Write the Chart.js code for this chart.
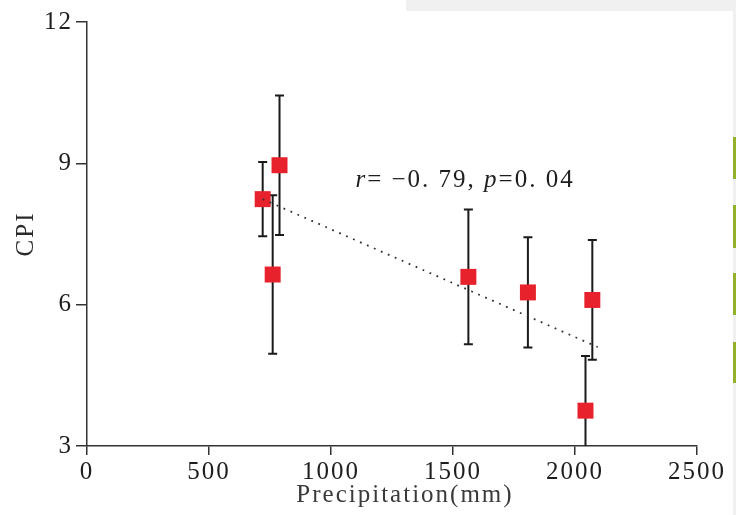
<!DOCTYPE html>
<html>
<head>
<meta charset="utf-8">
<script src="https://cdn.jsdelivr.net/npm/chart.js@4.4.1/dist/chart.umd.min.js"></script>
<style>
  html, body { margin: 0; padding: 0; background: #ffffff; }
  #wrap { width: 736px; height: 515px; position: relative; }
</style>
</head>
<body>
<div id="wrap"><canvas id="c" width="736" height="515"></canvas></div>
<script>
// ---- data ----
const precipitation = [720, 789, 761, 1563, 1807, 2071, 2043];
const cpi           = [8.24, 8.96, 6.64, 6.59, 6.26, 6.10, 3.75];
const cpiError      = [0.79, 1.48, 1.68, 1.43, 1.17, 1.27, 1.16];
const trendX        = [720, 2093];
const trendY        = [8.24, 5.10];
const xTickValues   = [0, 500, 1000, 1500, 2000, 2500];
const yTickValues   = [3, 6, 9, 12];
const xAxisTitle    = 'Precipitation(mm)';
const yAxisTitle    = 'CPI';
const statParts     = [['r', true], ['= \u22120. 79, ', false], ['p', true], ['=0. 04', false]];
const statAnchor    = { x: 1100, y: 8.5 };

const FONT = "'Liberation Serif', 'Times New Roman', serif";
const SPACING = '2px';

const points = precipitation.map((p, i) => ({ x: p, y: cpi[i] }));
const trend = trendX.map((v, i) => ({ x: v, y: trendY[i] }));

const backdropPlugin = {
  id: 'backdrop',
  beforeDraw(chart) {
    const ctx = chart.ctx;
    ctx.letterSpacing = SPACING;
    ctx.save();
    ctx.fillStyle = '#eff0ef';
    ctx.fillRect(406, 0, 330, 11);
    ctx.fillRect(733, 11, 3, 504);
    ctx.fillStyle = '#93b22a';
    [[137, 179], [205, 248], [273, 315], [342, 383]].forEach(([a, b]) => ctx.fillRect(733, a, 3, b - a));
    ctx.restore();
  }
};

const errorBarPlugin = {
  id: 'errorBars',
  beforeDatasetsDraw(chart) {
    const { ctx, chartArea, scales: { x, y } } = chart;
    ctx.save();
    ctx.beginPath();
    ctx.rect(chartArea.left, chartArea.top, chartArea.right - chartArea.left, chartArea.bottom - chartArea.top);
    ctx.clip();
    ctx.strokeStyle = '#1a1a1a';
    ctx.lineWidth = 2;
    precipitation.forEach((p, i) => {
      const px = x.getPixelForValue(p);
      const top = y.getPixelForValue(cpi[i] + cpiError[i]);
      const bot = y.getPixelForValue(cpi[i] - cpiError[i]);
      ctx.beginPath();
      ctx.moveTo(px, top); ctx.lineTo(px, bot);
      ctx.moveTo(px - 4.5, top); ctx.lineTo(px + 4.5, top);
      ctx.moveTo(px - 4.5, bot); ctx.lineTo(px + 4.5, bot);
      ctx.stroke();
    });
    ctx.restore();
  }
};

const textPlugin = {
  id: 'texts',
  afterDraw(chart) {
    const { ctx, scales: { x, y } } = chart;
    ctx.save();
    ctx.letterSpacing = SPACING;
    ctx.fillStyle = '#1e1e1e';
    ctx.textBaseline = 'alphabetic';
    ctx.textAlign = 'left';
    let px = x.getPixelForValue(statAnchor.x);
    const py = y.getPixelForValue(statAnchor.y);
    statParts.forEach(([t, it]) => {
      ctx.font = (it ? 'italic ' : '') + '25px ' + FONT;
      ctx.fillText(t, px, py);
      px += ctx.measureText(t).width;
    });
    // x axis title
    ctx.font = '25px ' + FONT;
    ctx.fillStyle = '#3a3a3a';
    ctx.textAlign = 'center';
    ctx.textBaseline = 'middle';
    const cx = (x.getPixelForValue(xTickValues[0]) + x.getPixelForValue(xTickValues[xTickValues.length - 1])) / 2 + 13;
    ctx.fillText(xAxisTitle, cx, 495);
    ctx.restore();
  }
};

const plainTick = (v) => String(v);

new Chart(document.getElementById('c'), {
  data: {
    datasets: [
      {
        type: 'scatter',
        data: points,
        pointStyle: 'rect',
        pointRadius: 11.3,
        pointHoverRadius: 11.3,
        backgroundColor: '#e8222c',
        borderWidth: 0,
        order: 1
      },
      {
        type: 'line',
        data: trend,
        borderColor: '#333',
        borderWidth: 1.8,
        borderDash: [1.8, 5.8],
        pointRadius: 0,
        fill: false,
        order: 0
      }
    ]
  },
  options: {
    responsive: false,
    animation: false,
    devicePixelRatio: 1,
    layout: { padding: { top: 22, right: 39, bottom: 0, left: 0 } },
    plugins: { legend: { display: false }, tooltip: { enabled: false } },
    scales: {
      x: {
        type: 'linear',
        min: xTickValues[0],
        max: xTickValues[xTickValues.length - 1],
        afterBuildTicks: (s) => { s.ticks = xTickValues.map(v => ({ value: v })); },
        afterFit: (s) => { s.height = 69; },
        ticks: { font: { family: FONT, size: 25 }, color: '#1e1e1e', padding: 2, maxRotation: 0, callback: plainTick },
        grid: { display: true, drawOnChartArea: false, drawTicks: true, tickLength: 9, color: '#333', lineWidth: 1.5 },
        border: { display: true, color: '#333', width: 1.5 },
        title: { display: false }
      },
      y: {
        type: 'linear',
        min: yTickValues[0],
        max: yTickValues[yTickValues.length - 1],
        afterBuildTicks: (s) => { s.ticks = yTickValues.map(v => ({ value: v })); },
        afterFit: (s) => { s.width = 87; },
        ticks: { font: { family: FONT, size: 25 }, color: '#1e1e1e', padding: 3, callback: plainTick },
        grid: { display: true, drawOnChartArea: false, drawTicks: true, tickLength: 11, color: '#333', lineWidth: 1.5 },
        border: { display: true, color: '#333', width: 1.5 },
        title: { display: true, text: yAxisTitle, font: { family: FONT, size: 25 }, color: '#2a2a2a', padding: { top: 11, bottom: 0 } }
      }
    }
  },
  plugins: [backdropPlugin, errorBarPlugin, textPlugin]
});
</script>
</body>
</html>
